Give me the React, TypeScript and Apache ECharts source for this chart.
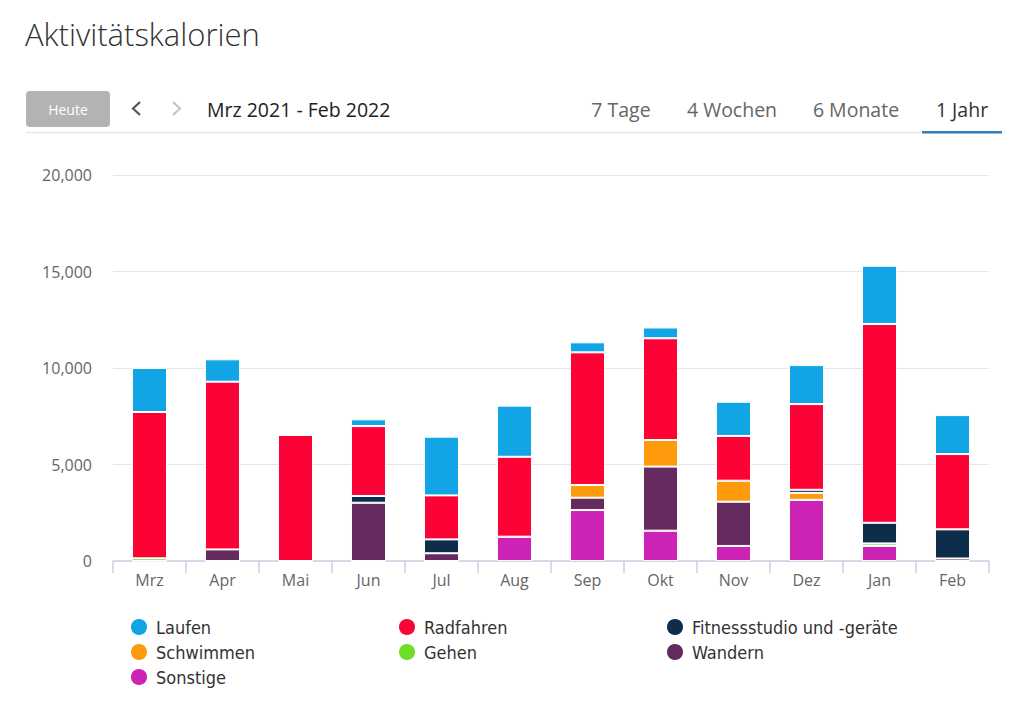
import React, { useEffect, useRef } from "react";
import * as echarts from "echarts";

const months = ["Mrz", "Apr", "Mai", "Jun", "Jul", "Aug", "Sep", "Okt", "Nov", "Dez", "Jan", "Feb"];
const yTicks = [0, 5000, 10000, 15000, 20000];

// stacking order bottom -> top
const sonstige = [0, 0, 0, 0, 0, 1260, 2640, 1570, 780, 3170, 780, 0];
const gehen = [140, 0, 0, 0, 0, 0, 0, 0, 0, 0, 130, 0];
const wandern = [0, 600, 0, 3020, 400, 0, 640, 3320, 2290, 0, 0, 130];
const schwimmen = [0, 0, 0, 0, 0, 0, 660, 1380, 1090, 360, 0, 0];
const fitness = [0, 0, 0, 350, 720, 0, 0, 0, 0, 160, 1070, 1510];
const radfahren = [7580, 8690, 6530, 3620, 2280, 4140, 6870, 5270, 2320, 4440, 10300, 3900];
const laufen = [2280, 1160, 0, 350, 3040, 2650, 520, 560, 1770, 2020, 3020, 2020];

const seriesDefs = [
  { name: "Sonstige", data: sonstige, color: "#cc22b5" },
  { name: "Gehen", data: gehen, color: "#6ddf29" },
  { name: "Wandern", data: wandern, color: "#652a5e" },
  { name: "Schwimmen", data: schwimmen, color: "#fd9b0d" },
  { name: "Fitnessstudio und -geräte", data: fitness, color: "#0d2d4a" },
  { name: "Radfahren", data: radfahren, color: "#fc0235" },
  { name: "Laufen", data: laufen, color: "#12a5e6" },
];

const legendCols = [
  ["Laufen", "Schwimmen", "Sonstige"],
  ["Radfahren", "Gehen"],
  ["Fitnessstudio und -geräte", "Wandern"],
];
const legendLefts = [124, 392, 660];

const tabs = ["7 Tage", "4 Wochen", "6 Monate", "1 Jahr"];
const tabCenters = [621, 732, 856, 962];

export default function App() {
  const ref = useRef<HTMLDivElement>(null);
  useEffect(() => {
    if (!ref.current) return;
    const chart = echarts.init(ref.current, null, { renderer: "svg" });
    const font = "'Open Sans', sans-serif";
    const graphic: any[] = [
      {
        type: "text",
        x: 25,
        y: 34,
        style: { text: "Aktivitätskalorien", fontSize: 31, fontWeight: 300, fontFamily: font, fill: "#333", verticalAlign: "middle" },
      },
      {
        type: "rect",
        shape: { x: 26, y: 91, width: 84, height: 36, r: 4 },
        style: { fill: "#b3b3b3" },
      },
      {
        type: "text",
        x: 68,
        y: 109,
        style: { text: "Heute", fontSize: 14, fontFamily: font, fill: "#fff", align: "center", verticalAlign: "middle" },
      },
      {
        type: "polyline",
        shape: { points: [[140, 102], [133, 108.5], [140, 115]] },
        style: { stroke: "#555", lineWidth: 2.2, fill: null },
      },
      {
        type: "polyline",
        shape: { points: [[173, 102], [180, 108.5], [173, 115]] },
        style: { stroke: "#c4c4c4", lineWidth: 2.2, fill: null },
      },
      {
        type: "text",
        x: 207,
        y: 109,
        style: { text: "Mrz 2021 - Feb 2022", fontSize: 19.5, fontFamily: font, fill: "#222", verticalAlign: "middle" },
      },
      {
        type: "line",
        shape: { x1: 26, y1: 132.5, x2: 1002, y2: 132.5 },
        style: { stroke: "#e8e8e8", lineWidth: 1.5 },
      },
      {
        type: "rect",
        shape: { x: 922, y: 131, width: 80, height: 2.5 },
        style: { fill: "#2f7fc1" },
      },
    ];
    tabs.forEach((t, i) => {
      graphic.push({
        type: "text",
        x: tabCenters[i],
        y: 109,
        style: {
          text: t,
          fontSize: 19.5,
          fontFamily: font,
          fill: i === 3 ? "#333" : "#666",
          align: "center",
          verticalAlign: "middle",
        },
      });
    });

    const option: any = {
      animation: false,
      backgroundColor: "#fff",
      grid: { left: 113, right: 35, top: 175, bottom: 160, containLabel: false },
      xAxis: {
        type: "category",
        data: months,
        axisLine: { lineStyle: { color: "#c9d1e2", width: 1.5 } },
        axisTick: { show: true, length: 12, lineStyle: { color: "#c9d1e2", width: 1.5 } },
        axisLabel: { color: "#666", fontSize: 16, fontFamily: font, margin: 11 },
      },
      yAxis: {
        type: "value",
        min: 0,
        max: 20000,
        interval: 5000,
        axisLine: { show: false },
        axisTick: { show: false },
        splitLine: { lineStyle: { color: "#e6e6e6", width: 1 } },
        axisLabel: {
          color: "#666",
          fontSize: 16,
          fontFamily: font,
          margin: 21,
          formatter: (v: number) => (yTicks.includes(v) ? v.toLocaleString("en-US") : ""),
        },
      },
      legend: legendCols.map((col, i) => ({
        data: col,
        orient: "vertical",
        left: legendLefts[i],
        top: 612,
        itemGap: 5,
        itemWidth: 18,
        itemHeight: 18,
        icon: "circle",
        selectedMode: false,
        textStyle: {
          fontSize: 18,
          lineHeight: 18,
          padding: [0, 0, 0, 3],
          color: "#333",
          fontFamily: "'DejaVu Sans Condensed', 'Open Sans', sans-serif",
        },
      })),
      series: seriesDefs.map((s) => ({
        name: s.name,
        type: "bar",
        stack: "total",
        data: s.data,
        barWidth: "48%",
        itemStyle: { color: s.color, borderColor: "#fff", borderWidth: 1 },
        emphasis: { disabled: true },
      })),
      graphic,
    };
    chart.setOption(option);
    return () => chart.dispose();
  }, []);
  return (
    <div
      ref={ref}
      style={{ position: "fixed", left: 0, top: 0, width: 1024, height: 721, background: "#fff" }}
    />
  );
}
